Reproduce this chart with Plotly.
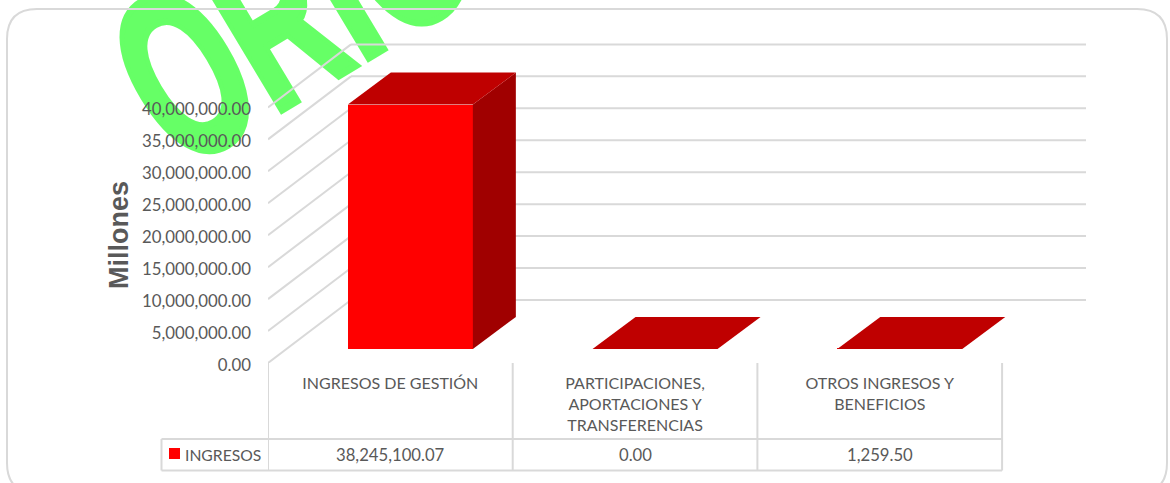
import plotly.graph_objects as go

# ---- data ----
categories = ["INGRESOS DE GESTIÓN", "PARTICIPACIONES,<br>APORTACIONES Y<br>TRANSFERENCIAS", "OTROS INGRESOS Y<br>BENEFICIOS"]
series_name = "INGRESOS"
values = [38245100.07, 0.00, 1259.50]
value_labels = ["38,245,100.07", "0.00", "1,259.50"]
tick_values = [0, 5e6, 10e6, 15e6, 20e6, 25e6, 30e6, 35e6, 40e6]
axis_title = "Millones"
chart_title = "INGRESOS"
watermark = "ORIGINAL"

# ---- page geometry ----
W, H = 1170, 483
L, R, T, B = 268, 1086, 0, 363
CAT_W = 244.7
PX_PER_UNIT = 6.39 / 1e6
ymax = (B - T) / PX_PER_UNIT
xmin = -0.5
xmax = xmin + (R - L) / CAT_W

def px(x):
    return (x - L) / (R - L)
def py(y):
    return (B - y) / (B - T)
def dx(p):
    return p / CAT_W
def dy(p):
    return p / PX_PER_UNIT

GRID = "#D9D9D9"
TXT = "#595959"
FONT = "Lato"
LW = 2

wall_dx, wall_dy = dx(83), dy(63)
front_dx, front_dy = dx(20), dy(14)
back_dx, back_dy = dx(63), dy(46)
bar_w = dx(125)

fig = go.Figure()
shapes = []

# watermark, under everything
wx, wy = 419, -94
shapes.append(dict(type="rect", xref="paper", yref="paper",
                   x0=px(wx - 10), x1=px(wx + 10), y0=py(wy + 10), y1=py(wy - 10),
                   line=dict(width=0), fillcolor="rgba(0,0,0,0)", layer="below",
                   label=dict(text="<b>" + watermark + "</b>", textangle=-31,
                              textposition="middle center",
                              font=dict(family="Liberation Sans", size=237, color="#66FF66"))))

# grid on the wall
for t in tick_values:
    shapes.append(dict(type="line", xref="x", yref="y", layer="below",
                       x0=xmin, y0=t, x1=xmin + wall_dx, y1=t + wall_dy,
                       line=dict(color=GRID, width=LW)))
    shapes.append(dict(type="line", xref="x", yref="y", layer="below",
                       x0=xmin + wall_dx, y0=t + wall_dy, x1=xmax, y1=t + wall_dy,
                       line=dict(color=GRID, width=LW)))

# front face of bars
fig.add_trace(go.Bar(x=[i + front_dx for i in range(len(values))], y=values,
                     base=[front_dy] * len(values), width=bar_w, name=series_name,
                     marker=dict(color="#FF0000", line=dict(width=0)), showlegend=False))

# top and side faces
for i, v in enumerate(values):
    xl, xr = i + front_dx - bar_w / 2, i + front_dx + bar_w / 2
    bl, br = i + back_dx - bar_w / 2, i + back_dx + bar_w / 2
    if v > 1e5:
        fig.add_trace(go.Scatter(x=[xr, br, br, xr, xr],
                                 y=[front_dy, back_dy, back_dy + v, front_dy + v, front_dy],
                                 mode="lines", fill="toself", fillcolor="#A00000",
                                 line=dict(width=0), showlegend=False, hoverinfo="skip"))
    fig.add_trace(go.Scatter(x=[xl, xr, br, bl, xl],
                             y=[front_dy + v, front_dy + v, back_dy + v, back_dy + v, front_dy + v],
                             mode="lines", fill="toself", fillcolor="#BF0000",
                             line=dict(width=0), showlegend=False, hoverinfo="skip"))

# data table lines
TL, T1, T2 = 161.5, 439, 470.5
for i in range(len(categories) + 1):
    shapes.append(dict(type="line", xref="x", yref="paper", x0=xmin + i, x1=xmin + i,
                       y0=py(B), y1=py(T2), line=dict(color=GRID, width=LW)))
for yy in (T1, T2):
    shapes.append(dict(type="line", xref="paper", yref="paper", x0=px(TL), x1=px(L + CAT_W * len(categories)),
                       y0=py(yy), y1=py(yy), line=dict(color=GRID, width=LW)))
shapes.append(dict(type="line", xref="paper", yref="paper", x0=px(TL), x1=px(TL),
                   y0=py(T1), y1=py(T2), line=dict(color=GRID, width=LW)))
# legend key
shapes.append(dict(type="rect", xref="paper", yref="paper", x0=px(169), x1=px(180),
                   y0=py(448), y1=py(459), line=dict(width=0), fillcolor="#FF0000"))

# outer rounded border
bl_, bt_, br_, bb_, r_ = 7, 9, 1167, 493, 30
path = (f"M {px(bl_)} {py(bt_ + r_)} Q {px(bl_)} {py(bt_)} {px(bl_ + r_)} {py(bt_)} "
        f"L {px(br_ - r_)} {py(bt_)} Q {px(br_)} {py(bt_)} {px(br_)} {py(bt_ + r_)} "
        f"L {px(br_)} {py(bb_ - r_)} Q {px(br_)} {py(bb_)} {px(br_ - r_)} {py(bb_)} "
        f"L {px(bl_ + r_)} {py(bb_)} Q {px(bl_)} {py(bb_)} {px(bl_)} {py(bb_ - r_)} Z")
shapes.append(dict(type="path", xref="paper", yref="paper", path=path,
                   line=dict(color=GRID, width=LW), layer="below"))

annotations = []
for i, lab in enumerate(value_labels):
    annotations.append(dict(x=i, xref="x", y=py(454.5), yref="paper", text=lab, showarrow=False,
                            font=dict(family=FONT, size=16.7, color=TXT), xanchor="center", yanchor="middle"))
annotations.append(dict(x=px(184), xref="paper", y=py(454.5), yref="paper", text=series_name, showarrow=False,
                        font=dict(family=FONT, size=15.7, color=TXT), xanchor="left", yanchor="middle", xshift=-1))
annotations.append(dict(x=px(119), xref="paper", y=py(235), yref="paper", text="<b>" + axis_title + "</b>",
                        showarrow=False, textangle=-90, font=dict(family="Liberation Sans", size=27, color=TXT),
                        xanchor="center", yanchor="middle"))
annotations.append(dict(x=px(47), xref="paper", y=py(7), yref="paper", text="<b>" + chart_title + "</b>",
                        showarrow=False, font=dict(family="Liberation Sans", size=25.8, color="#000000"),
                        xanchor="left", yanchor="bottom", xshift=-2, yshift=0))

fig.update_layout(
    width=W, height=H, autosize=False,
    margin=dict(l=L, r=W - R, t=T, b=H - B, pad=0, autoexpand=False),
    paper_bgcolor="white", plot_bgcolor="rgba(0,0,0,0)",
    showlegend=False, bargap=0,
    shapes=shapes, annotations=annotations,
    xaxis=dict(range=[xmin, xmax], tickvals=list(range(len(categories))), ticktext=categories,
               showgrid=False, zeroline=False, showline=False, ticks="", ticklabelstandoff=9,
               tickfont=dict(family=FONT, size=16, color=TXT)),
    yaxis=dict(range=[0, ymax], tickvals=tick_values, tickformat=",.2f",
               showgrid=False, zeroline=False, showline=False, ticks="", ticklabelstandoff=16,
               ticklabelshift=2,
               tickfont=dict(family=FONT, size=16.8, color=TXT)),
)

post = """
document.body.style.margin = '0';
var SX = 0.59;
document.querySelectorAll('text').forEach(function (t) {
  if (t.textContent === '%s') {
    var x = t.getAttribute('x'), y = t.getAttribute('y');
    var old = t.getAttribute('transform') || '';
    t.setAttribute('transform', old + ' translate(' + x + ',' + y + ') scale(' + SX + ',1) translate(' + (-x) + ',' + (-y) + ')');
    t.style.stroke = '#66FF66';
    t.style.strokeWidth = '7px';
  }
});
""" % watermark

fig.write_html("out.html", post_script=post, config=dict(displayModeBar=False))
